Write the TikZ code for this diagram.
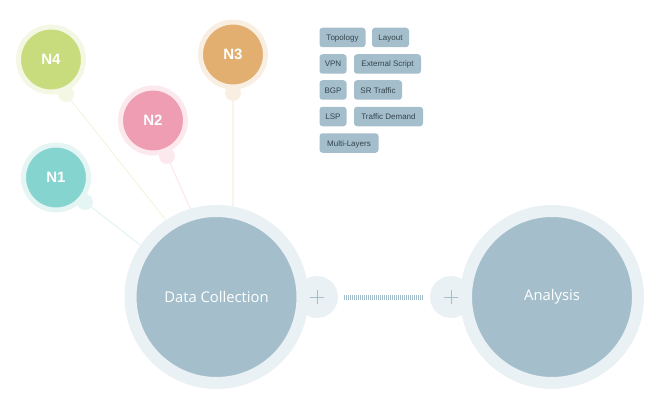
\documentclass[tikz,border=0pt]{standalone}
\usepackage{fontspec}
\setmainfont{Open Sans}
\newfontfamily\labelfont{Liberation Sans}
\usetikzlibrary{backgrounds}
\definecolor{hubblue}{HTML}{A4BFCB}
\definecolor{hubring}{HTML}{EAF1F4}
\definecolor{tealfill}{HTML}{86D4D0}
\definecolor{tealring}{HTML}{E4F5F4}
\definecolor{pinkfill}{HTML}{EE9DB3}
\definecolor{pinkring}{HTML}{FCE9EE}
\definecolor{sandfill}{HTML}{E2AF70}
\definecolor{sandring}{HTML}{F8EEE2}
\definecolor{limefill}{HTML}{C8DC7E}
\definecolor{limering}{HTML}{F3F7E4}
\definecolor{tagtext}{HTML}{34444E}
\tikzset{
  hub/.style={circle, fill=hubblue, draw=hubring, line width=12pt, minimum size=172pt,
    inner sep=0pt, outer sep=0pt, text=white, font=\fontsize{14.8}{16}\selectfont},
  site/.style n args={2}{circle, fill=#1, draw=#2, line width=5pt, minimum size=65pt,
    inner sep=0pt, outer sep=0pt, text=white, font=\labelfont\bfseries\fontsize{15}{16}\selectfont},
  sitedot/.style={circle, fill=#1, minimum size=16pt, inner sep=0pt, outer sep=0pt},
  sitelink/.style={draw=#1, line width=1.2pt},
  plusdot/.style={circle, fill=hubring, minimum size=42pt, inner sep=0pt, outer sep=0pt,
    path picture={
      \draw[hubblue, line width=0.8pt] (path picture bounding box.center) ++(-7,0) -- ++(14,0);
      \draw[hubblue, line width=0.8pt] (path picture bounding box.center) ++(0,-7) -- ++(0,14);
    }},
  tag/.style={rectangle, rounded corners=3pt, fill=hubblue, text=tagtext, inner sep=0pt,
    minimum width=#1, minimum height=19.5pt, text height=7pt, text depth=1pt,
    font=\labelfont\fontsize{8}{9}\selectfont},
}
\begin{document}
\begin{tikzpicture}[x=1pt, y=-1pt]
    \useasboundingbox (0,0) rectangle (660,409);

    % Sites
    \node[sitedot=limering] (dotfour) at (66,94) {};
    \node[sitedot=pinkring] (dottwo) at (167,156) {};
    \node[sitedot=tealring] (dotone) at (85,202) {};
    \node[sitedot=sandring] (dotthree) at (233,93) {};
    \node[site={limefill}{limering}] (nfour) at (51,59.5) {N4};
    \node[site={pinkfill}{pinkring}] (ntwo) at (153,120.5) {N2};
    \node[site={tealfill}{tealring}] (none) at (56,177.5) {N1};
    \node[site={sandfill}{sandring}] (nthree) at (233,54.5) {N3};

    % Cercles principaux
    \node[plusdot] (plusleft) at (317,297) {};
    \node[plusdot] (plusright) at (451,297) {};
    \node[hub] (collect) at (216.5,297) {Data Collection};
    \node[hub] (analysis) at (552,297) {Analysis};

    % Liens vers les sites
    \begin{scope}[on background layer]
        \draw[sitelink=limering] (dotfour) -- (collect.123);
        \draw[sitelink=pinkring] (dottwo) -- (collect.106);
        \draw[sitelink=tealring] (dotone) -- (collect.146);
        \draw[sitelink=sandring] (dotthree) -- (collect.79);
    \end{scope}

    % Liaison entre les deux cercles
    \draw[hubblue, line width=5pt, dash pattern=on 1pt off 1pt, shorten <=6pt, shorten >=6pt] (plusleft) -- (plusright);

    % Etiquettes
    \node[tag=46pt] (topology) at (342.5,37.5) {Topology};
    \node[tag=37pt] (layout) at (390.5,37.5) {Layout};
    \node[tag=27pt] (vpn) at (333,64) {VPN};
    \node[tag=67pt] (external) at (387.5,64) {External Script};
    \node[tag=27pt] (bgp) at (333,90) {BGP};
    \node[tag=48pt] (srtraffic) at (378,90) {SR Traffic};
    \node[tag=27pt] (lsp) at (333,116.5) {LSP};
    \node[tag=69pt] (demand) at (388.5,116.5) {Traffic Demand};
    \node[tag=59pt] (multi) at (349,143) {Multi-Layers};
\end{tikzpicture}
\end{document}
